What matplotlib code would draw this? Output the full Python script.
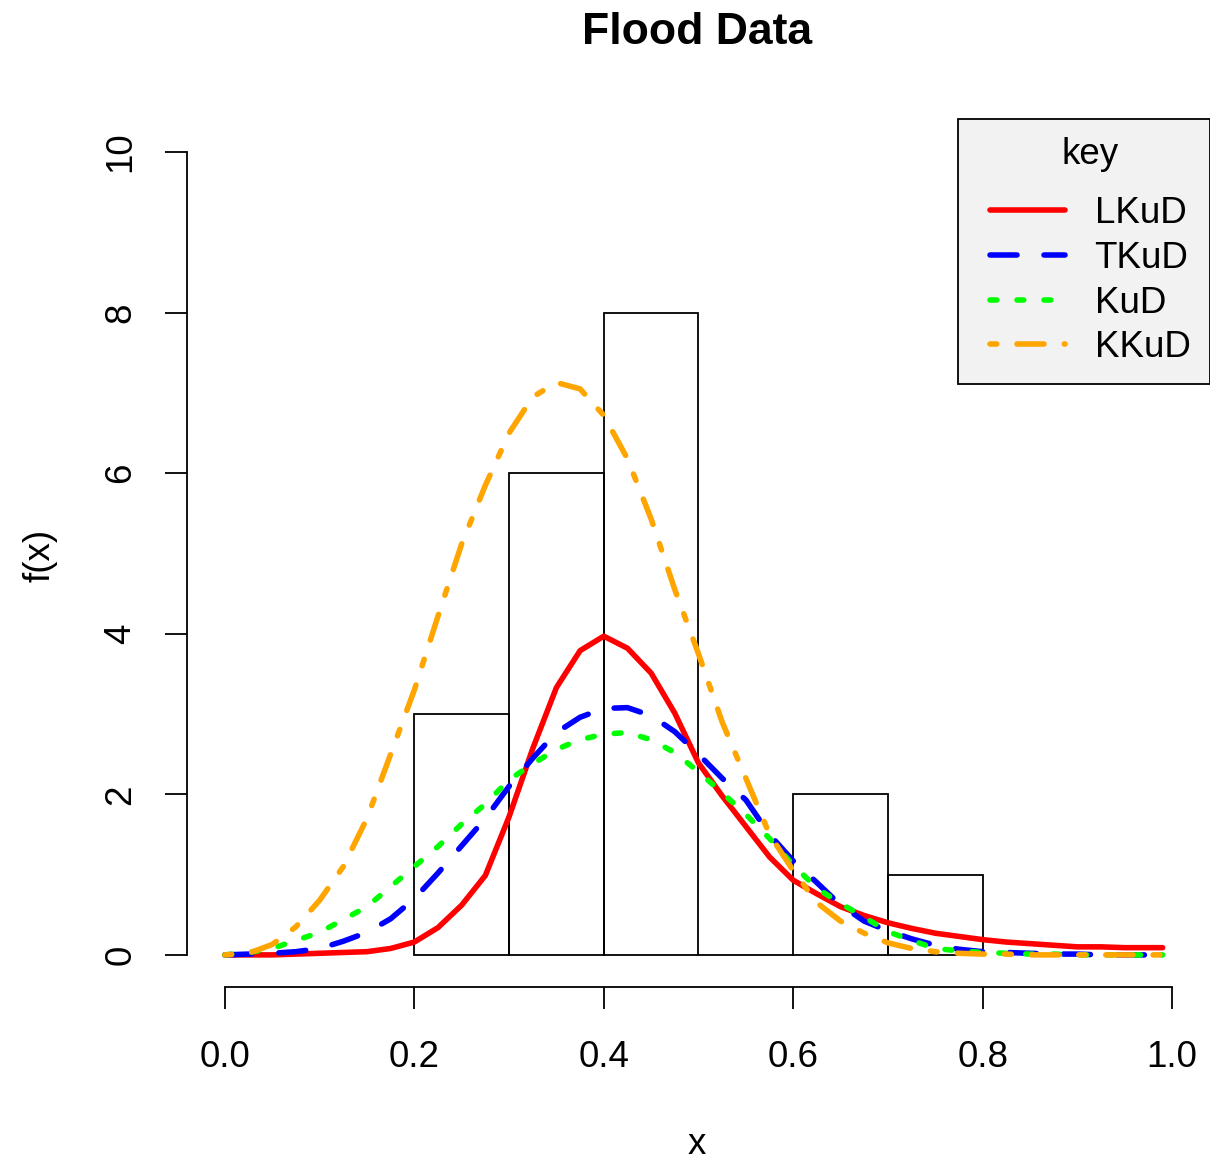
import matplotlib
matplotlib.use("Agg")
import matplotlib.pyplot as plt
from matplotlib.patches import Rectangle

plt.rcParams['font.family'] = ['Liberation Sans', 'DejaVu Sans']
plt.rcParams['lines.scale_dashes'] = False

# ---- data ----
bin_left = [0.2, 0.3, 0.4, 0.5, 0.6, 0.7]
bin_width = 0.1
bin_height = [3, 6, 8, 0, 2, 1]

x = [0, .025, .05, .075, .1, .125, .15, .175, .2, .225, .25, .275, .3, .325,
     .35, .375, .4, .425, .45, .475, .5, .525, .55, .575, .6, .625, .65, .675,
     .7, .725, .75, .775, .8, .825, .85, .875, .9, .925, .95, .975, .99]

lkud = [0, 0, 0, 0.01, 0.02, 0.03, 0.04, 0.08, 0.16, 0.34, 0.62, 0.99, 1.72,
        2.57, 3.33, 3.79, 3.97, 3.82, 3.51, 3.01, 2.39, 1.98, 1.6, 1.22, 0.93,
        0.76, 0.6, 0.49, 0.4, 0.33, 0.27, 0.23, 0.19, 0.16, 0.14, 0.12, 0.1,
        0.1, 0.09, 0.09, 0.09]
tkud = [0, 0.01, 0.02, 0.04, 0.08, 0.17, 0.28, 0.45, 0.7, 1.02, 1.36, 1.7,
        2.1, 2.45, 2.77, 2.96, 3.07, 3.08, 2.98, 2.78, 2.5, 2.2, 1.93, 1.5,
        1.17, 0.9, 0.62, 0.42, 0.3, 0.2, 0.12, 0.07, 0.04, 0.03, 0.02, 0.01,
        0.01, 0, 0, 0, 0]
kud = [0, 0.03, 0.08, 0.18, 0.28, 0.44, 0.6, 0.85, 1.1, 1.35, 1.63, 1.88,
       2.18, 2.38, 2.56, 2.68, 2.75, 2.77, 2.68, 2.52, 2.28, 2.02, 1.75, 1.45,
       1.12, 0.83, 0.64, 0.47, 0.29, 0.18, 0.08, 0.05, 0.03, 0.02, 0.01, 0.01,
       0, 0, 0, 0, 0]
kkud = [0, 0.02, 0.13, 0.35, 0.68, 1.1, 1.7, 2.5, 3.3, 4.22, 5.12, 5.85,
        6.5, 6.95, 7.13, 7.05, 6.72, 6.18, 5.43, 4.55, 3.75, 2.9, 2.2, 1.5,
        1.05, 0.65, 0.42, 0.27, 0.15, 0.08, 0.04, 0.02, 0.01, 0.01, 0, 0, 0,
        0, 0, 0, 0]

series_names = ['LKuD', 'TKuD', 'KuD', 'KKuD']
series_colors = ['red', 'blue', '#00ff00', 'orange']

xticks = [0.0, 0.2, 0.4, 0.6, 0.8, 1.0]
xticklabels = ['0.0', '0.2', '0.4', '0.6', '0.8', '1.0']
yticks = [0, 2, 4, 6, 8, 10]
yticklabels = ['0', '2', '4', '6', '8', '10']

# ---- figure ----
W, H = 1210, 1161
AX_L, AX_R, AX_T, AX_B = 187, 1210, 120, 987
fig = plt.figure(figsize=(W / 100, H / 100), dpi=100)
ax = fig.add_axes([AX_L / W, (H - AX_B) / H, (AX_R - AX_L) / W,
                   (AX_B - AX_T) / H])
ax.set_xlim(-0.04, 1.04)
ax.set_ylim(-0.4, 10.4)


def ax_frac(px_x, px_y):
    return ((px_x - AX_L) / (AX_R - AX_L), (AX_B - px_y) / (AX_B - AX_T))


FS = 26.5
px = 0.72  # points per pixel

ax.bar(bin_left, bin_height, width=bin_width, align='edge', facecolor='none',
       edgecolor='black', linewidth=1.3, zorder=2)

lw = 4.0
unit = 6.75 * px
styles = [
    dict(linestyle='-'),
    dict(linestyle=(0, (4 * unit, 4 * unit))),
    dict(linestyle=(0, (1 * unit, 3 * unit))),
    dict(linestyle=(0, (1 * unit, 3 * unit, 4 * unit, 3 * unit))),
]
for ys, name, col, st in zip([lkud, tkud, kud, kkud], series_names,
                              series_colors, styles):
    ax.plot(x, ys, color=col, linewidth=lw, label=name,
            solid_capstyle='round', dash_capstyle='round',
            solid_joinstyle='round', zorder=3, **st)

for s in ['top', 'right']:
    ax.spines[s].set_visible(False)
ax.spines['left'].set_bounds(0, 10)
ax.spines['bottom'].set_bounds(0, 1)
for s in ['left', 'bottom']:
    ax.spines[s].set_linewidth(1.3)

ax.set_xticks(xticks)
ax.set_xticklabels(xticklabels, fontsize=FS)
ax.set_yticks(yticks)
ax.set_yticklabels(yticklabels, fontsize=FS, rotation=90, va='center')
ax.tick_params(axis='both', direction='out', length=22 * px, width=1.3)
ax.tick_params(axis='x', pad=22)
ax.tick_params(axis='y', pad=19)

fig.text(697 / W, 1 - 33 / H, 'Flood Data', fontsize=32, fontweight='bold',
         ha='center', va='center')
fig.text(697 / W, 1 - 1145 / H, 'x', fontsize=FS, ha='center', va='center')
fig.text(40 / W, 1 - 555 / H, 'f(x)', fontsize=FS, ha='center', va='center',
         rotation=90)

# legend frame (R style box)
fx0, fy0 = ax_frac(958, 384)
fx1, fy1 = ax_frac(1209.5, 119)
frame = Rectangle((fx0, fy0), fx1 - fx0, fy1 - fy0, transform=ax.transAxes,
                  facecolor='#f2f2f2', edgecolor='black', linewidth=1.3,
                  zorder=4, clip_on=False)
ax.add_patch(frame)

ax_x, ax_y = ax_frac(990, 137)
leg = ax.legend(loc='upper left', bbox_to_anchor=(ax_x, ax_y),
                borderaxespad=0, borderpad=0, title='key', fontsize=FS,
                title_fontsize=FS, frameon=False, handlelength=2.04,
                handletextpad=0.8, labelspacing=0.262)
leg.set_zorder(5)
leg._legend_box.sep = 17.5

fig.savefig('out.png', dpi=100)
